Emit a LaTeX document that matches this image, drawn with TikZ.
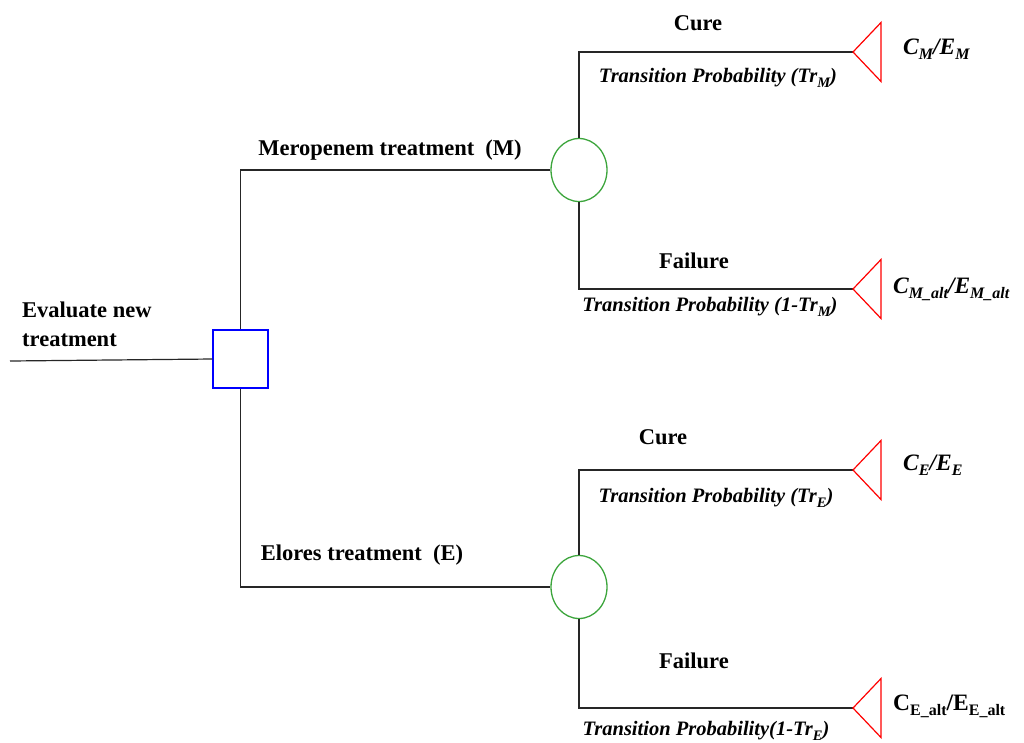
\documentclass[tikz,border=0pt]{standalone}
\usepackage{fontspec}
\setmainfont{Liberation Serif}
\usetikzlibrary{shapes.geometric}
\definecolor{chgreen}{RGB}{60,165,60}
\newcommand\lsub[1]{\raisebox{-0.45ex}{\fontsize{16}{16}\selectfont #1}}
\newcommand\psub[1]{\raisebox{-0.45ex}{\fontsize{14.5}{14.5}\selectfont #1}}
\begin{document}
\begin{tikzpicture}[x=1pt,y=-1pt,
  line/.style={draw=black!85, line width=1.2pt},
  decbox/.style={draw=blue, line width=1.3pt, minimum width=55pt, minimum height=58pt, inner sep=0pt, fill=white},
  chance/.style={draw=chgreen, line width=1.3pt, ellipse, minimum width=56pt, minimum height=63pt, inner sep=0pt, fill=white},
  term/.style={draw=red, line width=1.2pt},
  lbl/.style={font=\fontsize{22.5}{29}\selectfont\bfseries, inner sep=0pt},
  prob/.style={font=\fontsize{20.5}{22}\selectfont\bfseries\itshape, inner sep=0pt},
  pay/.style={font=\fontsize{23.5}{26}\selectfont\bfseries\itshape, inner sep=0pt, anchor=west},
]
\useasboundingbox (0,0) rectangle (1024,742);
% nodes
\coordinate (start) at (10,361);
\node[chance] (ch1) at (579,170) {};
\node[chance] (ch2) at (579,587) {};
% terminal tips
\coordinate (t1) at (853,52);
\coordinate (t2) at (853,289);
\coordinate (t3) at (853,470);
\coordinate (t4) at (853,708);
\node[decbox] (dec) at (240.5,359) {};
% connectors
\draw[line] (start) -- (dec.west);
\draw[line] (dec.north) |- (ch1.west);
\draw[line] (dec.south) |- (ch2.west);
\draw[line] (ch1.north) |- (t1);
\draw[line] (ch1.south) |- (t2);
\draw[line] (ch2.north) |- (t3);
\draw[line] (ch2.south) |- (t4);
% triangles
\foreach \t in {t1,t2,t3,t4}{
  \draw[term] (\t) -- ++(28,-29.5) -- ++(0,59) -- cycle;
}
% labels
\node[lbl, align=left, anchor=north west] (ev) at (22,302) {Evaluate new\\treatment};
\node[lbl] (lm) at (390,150) {Meropenem treatment\ \ (M)};
\node[lbl] (le) at (362,555) {Elores treatment\ \ (E)};
\node[lbl] (c1) at (698,23) {Cure};
\node[lbl] (f1) at (694,261) {Failure};
\node[lbl] (c2) at (663,437) {Cure};
\node[lbl] (f2) at (694,661) {Failure};
\node[prob] (p1) at (718,78) {Transition Probability (Tr\psub{M})};
\node[prob] (p2) at (710,307) {Transition Probability (1-Tr\psub{M})};
\node[prob] (p3) at (716,498) {Transition Probability (Tr\psub{E})};
\node[prob] (p4) at (706,731) {Transition Probability(1-Tr\psub{E})};
\node[pay] (e1) at (903,49) {C\lsub{M}/E\lsub{M}};
\node[pay] (e2) at (893,289) {C\lsub{M\_alt}/E\lsub{M\_alt}};
\node[pay] (e3) at (903,465) {C\lsub{E}/E\lsub{E}};
\node[pay, font=\fontsize{23.5}{26}\selectfont\bfseries] (e4) at (893,706) {C\lsub{E\_alt}/E\lsub{E\_alt}};
\end{tikzpicture}
\end{document}
